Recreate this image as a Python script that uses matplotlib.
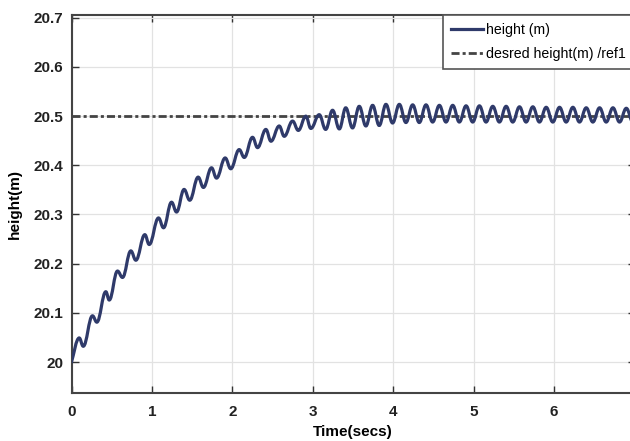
import numpy as np
import matplotlib.pyplot as plt
from matplotlib.path import Path
from matplotlib.patches import PathPatch
from matplotlib.lines import Line2D

# values: start point, then each crest and dip of the wave
start_t = 0.0
start_h = 20.0

peak_t = [0.096, 0.261, 0.427, 0.572, 0.738, 0.912,
          1.082, 1.244, 1.400, 1.575, 1.741, 1.911,
          2.085, 2.251, 2.417, 2.583, 2.749, 2.914,
          3.080, 3.246, 3.410, 3.578, 3.744, 3.910,
          4.076, 4.242, 4.408, 4.574, 4.740, 4.906,
          5.072, 5.238, 5.404, 5.570, 5.736, 5.902,
          6.068, 6.234, 6.400, 6.566, 6.732, 6.898]
peak_h = [20.049, 20.094, 20.143, 20.185, 20.226, 20.259,
          20.293, 20.325, 20.351, 20.376, 20.395, 20.415,
          20.432, 20.457, 20.473, 20.480, 20.490, 20.500,
          20.503, 20.512, 20.517, 20.520, 20.522, 20.524,
          20.524, 20.523, 20.523, 20.522, 20.522, 20.521,
          20.521, 20.520, 20.520, 20.519, 20.519, 20.518,
          20.518, 20.518, 20.517, 20.517, 20.517, 20.516]

trough_t = [0.146, 0.315, 0.469, 0.634, 0.800, 0.966,
            1.144, 1.306, 1.470, 1.640, 1.803, 1.980,
            2.148, 2.313, 2.480, 2.645, 2.820, 2.976,
            3.160, 3.330, 3.494, 3.660, 3.826, 3.992,
            4.158, 4.324, 4.490, 4.656, 4.822, 4.988,
            5.154, 5.320, 5.486, 5.652, 5.818, 5.984,
            6.150, 6.316, 6.482, 6.648, 6.814, 6.980]
trough_h = [20.032, 20.081, 20.126, 20.172, 20.207, 20.239,
            20.273, 20.305, 20.329, 20.355, 20.374, 20.393,
            20.416, 20.436, 20.449, 20.459, 20.471, 20.475,
            20.473, 20.474, 20.476, 20.480, 20.481, 20.486,
            20.487, 20.487, 20.488, 20.488, 20.488, 20.488,
            20.488, 20.488, 20.488, 20.488, 20.488, 20.488,
            20.488, 20.488, 20.488, 20.488, 20.488, 20.488]

ref_height = 20.5
ref_t = [0.0, 7.0]

xticks = [0, 1, 2, 3, 4, 5, 6, 7]
yticks = [20, 20.1, 20.2, 20.3, 20.4, 20.5, 20.6, 20.7]
ytick_labels = ['20', '20.1', '20.2', '20.3', '20.4', '20.5', '20.6', '20.7']

line_color = '#2f3a6a'
ref_color = '#444444'
ref_dash = (0, (2.9, 1.1, 1.1, 1.1))

# interleave crests and dips into one trace
t = [start_t]
h = [start_h]
for pt, ph, tt, th in zip(peak_t, peak_h, trough_t, trough_h):
    t += [pt, tt]
    h += [ph, th]

# smooth trace: cubic bezier between extremes, flat tangent at each crest/dip
verts = [(t[0], h[0])]
codes = [Path.MOVETO]
for i in range(1, len(t)):
    d = t[i] - t[i - 1]
    if i == 1:
        c1 = (t[0] + 0.3 * d, h[0] + 0.3 * (h[1] - h[0]))
    else:
        c1 = (t[i - 1] + 0.4 * d, h[i - 1])
    c2 = (t[i] - 0.4 * d, h[i])
    verts += [c1, c2, (t[i], h[i])]
    codes += [Path.CURVE4] * 3

plt.rcParams['font.family'] = ['Liberation Sans', 'DejaVu Sans']

fig = plt.figure(figsize=(6.3, 4.41), dpi=100)
# axes run a little past the right edge, like the cropped original
ax = fig.add_axes([71.5 / 630, 48 / 441, 563 / 630, 378 / 441])

ax.plot(ref_t, [ref_height, ref_height], color=ref_color, lw=2,
        linestyle=ref_dash, zorder=2)
ax.add_patch(PathPatch(Path(verts, codes), facecolor='none', edgecolor=line_color,
                       lw=2.3, zorder=3, capstyle='round', joinstyle='round'))

ax.set_xlim(0, 7)
ax.set_ylim(19.937, 20.7057)
ax.set_xticks(xticks)
ax.set_yticks(yticks)
ax.set_yticklabels(ytick_labels)

ax.grid(True, color='#e2e2e2', lw=0.9)
ax.set_axisbelow(True)
ax.tick_params(direction='in', length=5, width=1, colors='#333333',
               top=True, right=True, labelsize=11)
ax.tick_params(axis='x', pad=9)
ax.tick_params(axis='y', pad=6)
for lab in ax.get_xticklabels() + ax.get_yticklabels():
    lab.set_fontweight('bold')
    lab.set_color('#222222')
for s in ax.spines.values():
    s.set_color('#444444')
    s.set_linewidth(1.5)

ax.set_xlabel('Time(secs)', fontsize=11, fontweight='bold', labelpad=4)
ax.set_ylabel('height(m)', fontsize=11, fontweight='bold', labelpad=8)

# legend
handles = [Line2D([], [], color=line_color, lw=2.3),
           Line2D([], [], color=ref_color, lw=2, linestyle=ref_dash)]
labels = ['height (m)', 'desred height(m) /ref1']
leg = ax.legend(handles, labels, loc='upper left',
                bbox_to_anchor=(443 / 630, 1 - 15 / 441), bbox_transform=fig.transFigure,
                fontsize=10.2, frameon=True, fancybox=False, framealpha=1,
                edgecolor='#555555', borderaxespad=0, borderpad=0.55,
                handlelength=2.3, handletextpad=0.15, labelspacing=0.75)
leg.get_frame().set_linewidth(1.2)

fig.savefig('out.png', dpi=100)
